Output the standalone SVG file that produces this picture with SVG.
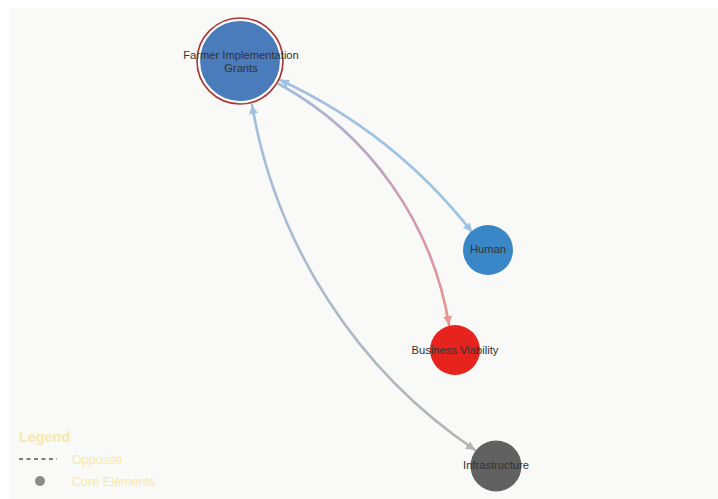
<svg xmlns="http://www.w3.org/2000/svg" width="718" height="499" viewBox="0 0 718 499">
  <style>
    .edge { fill: none; stroke-width: 2.6; stroke-linecap: round; }
    .label { font-family: "Liberation Sans", Arial, sans-serif; font-size: 11.2px; fill: #333333; text-anchor: middle; }
    .legend { font-family: "Liberation Sans", Arial, sans-serif; fill: #f6e9a9; }
  </style>
  <defs>
    <marker id="arrow-blue" viewBox="0 0 10 10" refX="10" refY="5" markerUnits="userSpaceOnUse" markerWidth="9" markerHeight="9" orient="auto-start-reverse">
      <path d="M0,0 L10,5 L0,10 z" fill="#9ec2e3"/>
    </marker>
    <marker id="arrow-red" viewBox="0 0 10 10" refX="10" refY="5" markerUnits="userSpaceOnUse" markerWidth="9" markerHeight="9" orient="auto-start-reverse">
      <path d="M0,0 L10,5 L0,10 z" fill="#ea9290"/>
    </marker>
    <marker id="arrow-grey" viewBox="0 0 10 10" refX="10" refY="5" markerUnits="userSpaceOnUse" markerWidth="9" markerHeight="9" orient="auto-start-reverse">
      <path d="M0,0 L10,5 L0,10 z" fill="#b3b3b3"/>
    </marker>
    <linearGradient id="g-human" gradientUnits="userSpaceOnUse" x1="280" y1="80" x2="472" y2="232">
      <stop offset="0" stop-color="#a3bfe0"/>
      <stop offset="1" stop-color="#9dc4e4"/>
    </linearGradient>
    <linearGradient id="g-business" gradientUnits="userSpaceOnUse" x1="279" y1="84" x2="449" y2="325">
      <stop offset="0" stop-color="#a3bddc"/>
      <stop offset="0.35" stop-color="#b9a6c4"/>
      <stop offset="1" stop-color="#ec908c"/>
    </linearGradient>
    <linearGradient id="g-infra" gradientUnits="userSpaceOnUse" x1="475" y1="450" x2="252" y2="105">
      <stop offset="0" stop-color="#b5b5b5"/>
      <stop offset="1" stop-color="#a2bfe0"/>
    </linearGradient>
  </defs>

  <!-- canvas -->
  <rect x="0" y="0" width="718" height="499" fill="#ffffff"/>
  <rect x="9" y="8" width="709" height="491" fill="#f9f9f7"/>

  <!-- connectors -->
  <g id="links">
    <path class="edge" d="M280,80 A525,525 0 0,1 472,232" stroke="url(#g-human)" marker-start="url(#arrow-blue)" marker-end="url(#arrow-blue)"/>
    <path class="edge" d="M279,84 A337,337 0 0,1 449,325" stroke="url(#g-business)" marker-end="url(#arrow-red)"/>
    <path class="edge" d="M475,450 A523,523 0 0,1 252,105" stroke="url(#g-infra)" marker-start="url(#arrow-grey)" marker-end="url(#arrow-blue)"/>
  </g>

  <!-- nodes -->
  <g id="node-farmer-implementation-grants">
    <circle cx="240" cy="61" r="43" fill="none" stroke="#ab3434" stroke-width="1.6"/>
    <circle cx="240" cy="61" r="40.5" fill="#4a7bbb" stroke="#ffffff" stroke-width="1.2"/>
    <text class="label" x="241" y="59">Farmer Implementation</text>
    <text class="label" x="241" y="72">Grants</text>
  </g>
  <g id="node-human">
    <circle cx="488" cy="250" r="25" fill="#3a87c8"/>
    <text class="label" x="488" y="253">Human</text>
  </g>
  <g id="node-business-viability">
    <circle cx="455" cy="350" r="25" fill="#e6231d"/>
    <text class="label" x="455" y="354">Business Viability</text>
  </g>
  <g id="node-infrastructure">
    <circle cx="496" cy="466" r="25.5" fill="#616161"/>
    <text class="label" x="496" y="469">Infrastructure</text>
  </g>

  <!-- legend -->
  <g id="legend">
    <text class="legend" x="19" y="442" font-size="14.4" font-weight="bold">Legend</text>
    <line x1="19" y1="459" x2="57" y2="459" stroke="#555555" stroke-width="1.4" stroke-dasharray="4,3.5"/>
    <text class="legend" x="72" y="463.5" font-size="12.6">Opposite</text>
    <circle cx="40" cy="481" r="5" fill="#8a8a8a"/>
    <text class="legend" x="72" y="485.5" font-size="12.6">Core Elements</text>
  </g>
</svg>
